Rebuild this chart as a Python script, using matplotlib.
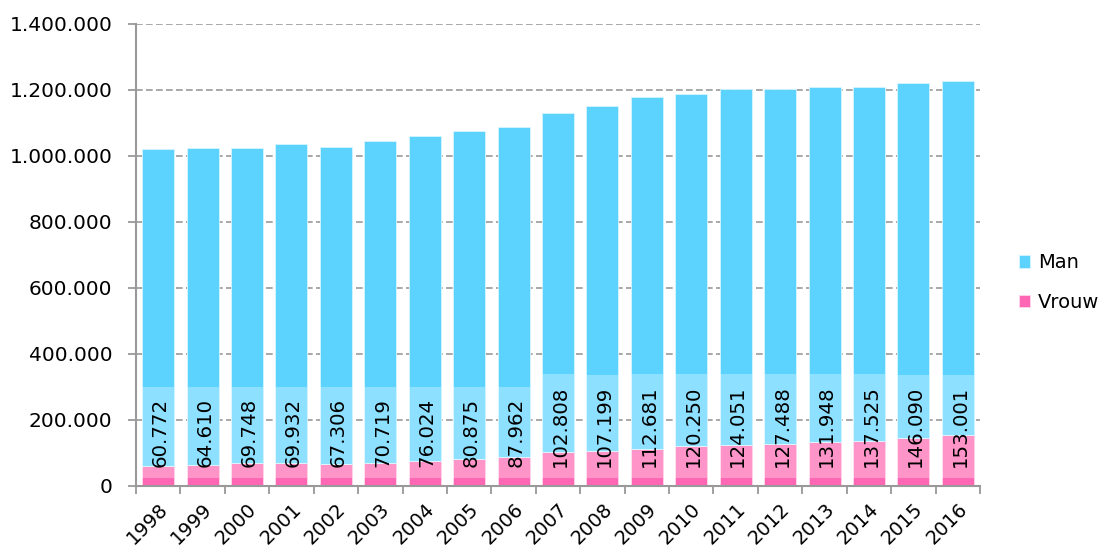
import numpy as np
import matplotlib.pyplot as plt
from matplotlib.ticker import FuncFormatter

# data
years = ['1998', '1999', '2000', '2001', '2002', '2003', '2004', '2005', '2006', '2007',
         '2008', '2009', '2010', '2011', '2012', '2013', '2014', '2015', '2016']
vrouw = [60772, 64610, 69748, 69932, 67306, 70719, 76024, 80875, 87962, 102808,
         107199, 112681, 120250, 124051, 127488, 131948, 137525, 146090, 153001]
man = [960400, 959600, 953450, 966470, 960000, 974780, 983680, 993900, 1000000, 1026600,
       1044300, 1065100, 1067650, 1078050, 1075500, 1076150, 1070575, 1075110, 1073300]

c_man = '#5CD3FF'
c_vrouw = '#FF66B3'
grey = '#999999'


def dotted(v, pos=None):
    return f'{int(v):,}'.replace(',', '.')


fig = plt.figure(figsize=(11.04, 5.49), dpi=100)
ax = fig.add_axes([0.1232, 0.1148, 0.7645, 0.8415])

x = np.arange(len(years))
bars_v = ax.bar(x, vrouw, width=0.72, color=c_vrouw, edgecolor='#ffd6ea', linewidth=0.6, label='Vrouw')
bars_m = ax.bar(x, man, width=0.72, bottom=vrouw, color=c_man, edgecolor='#d6f4ff', linewidth=0.6, label='Man')

# value labels with a translucent box, clipped to the bar
for i, v in enumerate(vrouw):
    t = ax.annotate(dotted(v), (x[i], 25000), xytext=(1.5, 7.8), textcoords='offset points',
                    ha='center', va='bottom', rotation=90, fontsize=14.2, color='black',
                    bbox=dict(boxstyle='square,pad=0.56', fc='white', ec='none', alpha=0.3))
    clip = plt.Rectangle((x[i] - 0.36, 0), 0.72, vrouw[i] + man[i], transform=ax.transData)
    t.set_clip_path(clip)

ax.set_xlim(-0.5, len(years) - 0.5)
ax.set_ylim(0, 1400000)
ax.set_yticks(np.arange(0, 1400001, 200000))
ax.yaxis.set_major_formatter(FuncFormatter(dotted))

ax.set_xticks(x)
ax.set_xticklabels(years, rotation=45, ha='right', rotation_mode='anchor')
ax.set_xticks(np.arange(-0.5, len(years), 1), minor=True)
ax.tick_params(axis='x', which='major', length=0, pad=10, labelsize=14)
ax.tick_params(axis='x', which='minor', length=6, width=1.3, color=grey)
ax.tick_params(axis='y', length=6, width=1.3, color=grey, labelsize=14.5, pad=11)

ax.yaxis.grid(True, linestyle=(0, (4, 2)), color=grey, linewidth=1.2)
ax.set_axisbelow(True)

for s in ['top', 'right']:
    ax.spines[s].set_visible(False)
for s in ['left', 'bottom']:
    ax.spines[s].set_color(grey)
    ax.spines[s].set_linewidth(1.5)

ax.legend(handles=[bars_m, bars_v], labels=['Man', 'Vrouw'], loc='center left',
          bbox_to_anchor=(1.025, 0.44), frameon=False, fontsize=14,
          handlelength=0.6, handleheight=0.6, handletextpad=0.4, labelspacing=1.05)

fig.savefig('out.png', dpi=100)
